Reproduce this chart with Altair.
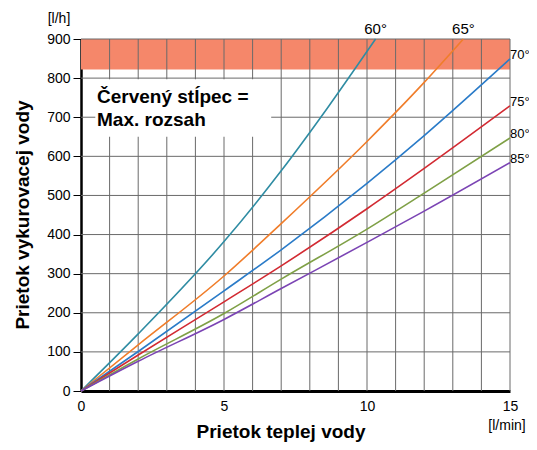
import altair as alt
import pandas as pd

# ---- data ----
series_names = ["60°", "65°", "70°", "75°", "80°", "85°"]
series_colors = ["#2f8ca3", "#f07d2a", "#2a7bc8", "#d22a32", "#7fa046", "#7b44b4"]

x60 = [0, 2, 5, 7, 8.63, 10.3]
y60 = [0, 146, 382, 563, 725, 900]
x65 = [0, 2, 5, 7, 10, 12, 13.37]
y65 = [0, 118, 294, 428, 638, 789, 900]
x70 = [0, 2, 5, 7, 10, 12, 15]
y70 = [0, 101, 256, 361, 531, 653, 849]
x75 = [0, 2, 5, 7, 10, 12, 15]
y75 = [0, 92, 228, 320, 466, 569, 729]
x80 = [0, 2, 5, 7, 10, 12, 15]
y80 = [0, 82, 198, 286, 414, 506, 647]
x85 = [0, 2, 5, 7, 10, 12, 15]
y85 = [0, 76, 183, 262, 380, 460, 584]

x_ticks = [0, 5, 10, 15]
y_ticks = [0, 100, 200, 300, 400, 500, 600, 700, 800, 900]
grid_x = list(range(1, 16))
grid_y = list(range(100, 1000, 100))

band_y = [822, 900]          # red "max range" band
box_x = [0.5, 6.65]          # white legend box
box_y = [650, 797]
box_text = "Červený stĺpec =\nMax. rozsah"

x_title = "Prietok teplej vody"
y_title = "Prietok vykurovacej vody"
x_unit = "[l/min]"
y_unit = "[l/h]"

# ---- build tables ----
xs_all = [x60, x65, x70, x75, x80, x85]
ys_all = [y60, y65, y70, y75, y80, y85]
rows = []
for name, xs, ys in zip(series_names, xs_all, ys_all):
    for i, (a, b) in enumerate(zip(xs, ys)):
        rows.append({"s": name, "x": a, "y": b, "i": i})
df = pd.DataFrame(rows)
ends = pd.DataFrame([{"s": n, "x": xs[-1], "y": ys[-1]} for n, xs, ys in zip(series_names, xs_all, ys_all)])
top_ends = ends[ends["y"] >= 900]
right_ends = ends[ends["y"] < 900]

XS = alt.Scale(domain=[0, 15], nice=False, zero=False)
YS = alt.Scale(domain=[0, 900], nice=False, zero=False)
XA = alt.Axis(values=x_ticks, grid=False, ticks=False, domainColor="black", domainWidth=3,
              labelFontSize=14, labelPadding=8, labelColor="black", title=None,
              labelFont="Liberation Sans", labelFlush=False)
YA = alt.Axis(values=y_ticks, grid=False, tickSize=8, tickColor="black", tickWidth=1,
              domainColor="black", domainWidth=2.5, labelFontSize=14, labelPadding=3,
              labelColor="black", title=None, labelFont="Liberation Sans")
col = alt.Color("s:N", scale=alt.Scale(domain=series_names, range=series_colors), legend=None)

band = alt.Chart(pd.DataFrame({"x0": [0], "x1": [15], "y0": [band_y[0]], "y1": [band_y[1]]})).mark_rect(
    color="#f5876a").encode(
    x=alt.X("x0:Q", scale=XS, axis=XA), x2="x1:Q",
    y=alt.Y("y0:Q", scale=YS, axis=YA), y2="y1:Q")

vgrid = alt.Chart(pd.DataFrame({"g": grid_x, "a": 0, "b": 900})).mark_rule(color="#6a6a6a", strokeWidth=1).encode(
    x=alt.X("g:Q", scale=XS, axis=XA), y=alt.Y("a:Q", scale=YS, axis=YA), y2="b:Q")
hgrid = alt.Chart(pd.DataFrame({"g": grid_y, "a": 0, "b": 15})).mark_rule(color="#6a6a6a", strokeWidth=1).encode(
    y=alt.Y("g:Q", scale=YS, axis=YA), x=alt.X("a:Q", scale=XS, axis=XA), x2="b:Q")

box = alt.Chart(pd.DataFrame({"x0": [box_x[0]], "x1": [box_x[1]], "y0": [box_y[0]], "y1": [box_y[1]]})).mark_rect(
    color="white").encode(
    x=alt.X("x0:Q", scale=XS, axis=XA), x2="x1:Q",
    y=alt.Y("y0:Q", scale=YS, axis=YA), y2="y1:Q")

lines = alt.Chart(df).mark_line(strokeWidth=1.6, interpolate="monotone").encode(
    x=alt.X("x:Q", scale=XS, axis=XA), y=alt.Y("y:Q", scale=YS, axis=YA),
    color=col, order="i:Q", detail="s:N")

top_lbl = alt.Chart(top_ends).mark_text(fontSize=15, font="Liberation Sans", dy=-10, align="center",
                                         baseline="middle", color="black").encode(
    x=alt.X("x:Q", scale=XS, axis=XA), y=alt.Y("y:Q", scale=YS, axis=YA), text="s:N")
right_lbl = alt.Chart(right_ends).mark_text(fontSize=13, font="Liberation Sans", dx=0, dy=-4, align="left",
                                            baseline="middle", color="black").encode(
    x=alt.X("x:Q", scale=XS, axis=XA), y=alt.Y("y:Q", scale=YS, axis=YA), text="s:N")

def label(txt, x, y, size, bold=False, angle=0, align="center", baseline="middle", lb=None):
    kw = dict(fontSize=size, font="Liberation Sans", fontWeight="bold" if bold else "normal",
              align=align, baseline=baseline, color="black", angle=angle)
    if lb:
        kw["lineBreak"] = lb
        kw["lineHeight"] = 23
    return alt.Chart(pd.DataFrame({"t": [txt]})).mark_text(**kw).encode(
        x=alt.value(x), y=alt.value(y), text="t:N")

box_lbl = label(box_text, 16, 64, 19, bold=True, align="left", baseline="alphabetic", lb="\n")
xt = label(x_title, 200, 393, 19, bold=True)
yt = label(y_title, -58, 176, 19, bold=True, angle=270)
xu = label(x_unit, 426, 387, 14)
yu = label(y_unit, -22, -20, 14)

chart = alt.layer(band, vgrid, hgrid, box, lines, top_lbl, right_lbl, box_lbl, xt, yt, xu, yu).properties(
    width=429, height=352,
    autosize=alt.AutoSizeParams(type="none"),
    padding={"left": 73, "top": 31, "right": 19, "bottom": 51},
    background="white",
).configure_view(strokeWidth=0)

chart.save("out.html", embed_options={"renderer": "svg", "actions": False})
